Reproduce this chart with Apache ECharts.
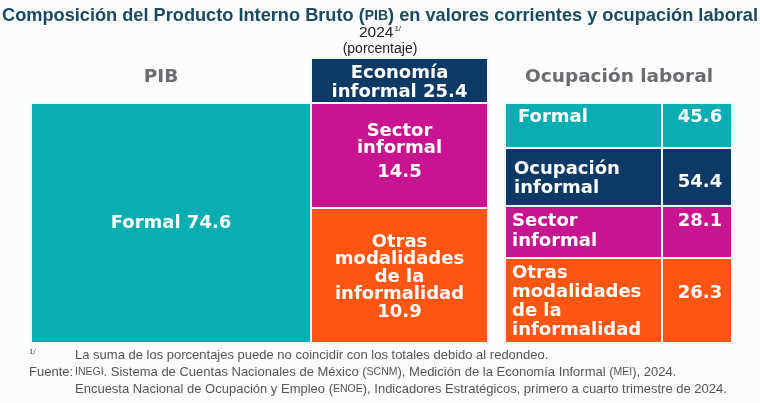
<!DOCTYPE html>
<html>
<head>
<meta charset="utf-8">
<script src="https://cdn.jsdelivr.net/npm/echarts@6/dist/echarts.min.js"></script>
<style>
html,body{margin:0;padding:0;background:#fcfcfc;}
#main{width:760px;height:403px;}
</style>
</head>
<body>
<div id="main"></div>
<script>
// PIB a valores corrientes, 2024 (porcentaje)
var pibNames = ['Formal', 'Economía informal', 'Sector informal', 'Otras modalidades de la informalidad'];
var pibValues = [74.6, 25.4, 14.5, 10.9];
// Ocupación laboral, 2024 (porcentaje)
var ocupNames = ['Formal', 'Ocupación informal', 'Sector informal', 'Otras modalidades de la informalidad'];
var ocupValues = [45.6, 54.4, 28.1, 26.3];

var TEAL = '#0aaeb0', NAVY = '#0d3a64', MAGENTA = '#c8158f', ORANGE = '#fd5612';
var SANS = "'Liberation Sans', Arial, sans-serif";
var BOLD = "bold 18px 'DejaVu Sans', sans-serif";

// parte el nombre en renglones: counts = palabras por renglon
function wrap(str, counts) {
    var w = str.split(' '), out = [], i = 0;
    counts.forEach(function (n) { out.push(w.slice(i, i + n).join(' ')); i += n; });
    if (i < w.length) out.push(w.slice(i).join(' '));
    return out.join('\n');
}
function f1(v) { return v.toFixed(1); }

// celdas del cuadro (unidades del eje: x 0-701, y 0-285 hacia abajo)
var cells = [
    {x0: 0, x1: 280, y0: 45, y1: 285, color: TEAL,
     text: pibNames[0] + ' ' + f1(pibValues[0]), tx: 140, ty: 165.5, lh: 18},
    {x0: 280, x1: 457, y0: 0, y1: 45, color: NAVY,
     text: wrap(pibNames[1] + ' ' + f1(pibValues[1]), [1]), tx: 368.5, ty: 24.5, lh: 19},
    {x0: 280, x1: 457, y0: 45, y1: 150, color: MAGENTA,
     rich: true, name: pibNames[2], value: pibValues[2], tx: 368.5, ty: 65},
    {x0: 280, x1: 457, y0: 150, y1: 285, color: ORANGE,
     text: wrap(pibNames[3] + ' ' + f1(pibValues[3]), [1, 1, 2, 1]), tx: 368.5, ty: 219, lh: 17.5},
    // ocupacion laboral: renglones con columna de etiqueta y de valor
    {x0: 474, x1: 631, y0: 45, y1: 90, color: TEAL, align: 'left',
     text: ocupNames[0], tx: 487, ty: 59.5, lh: 19},
    {x0: 631, x1: 701, y0: 45, y1: 90, color: TEAL,
     text: f1(ocupValues[0]), tx: 669, ty: 59.5, lh: 19},
    {x0: 474, x1: 631, y0: 90, y1: 148, color: NAVY, align: 'left',
     text: wrap(ocupNames[1], [1]), tx: 483, ty: 121, lh: 19},
    {x0: 631, x1: 701, y0: 90, y1: 148, color: NAVY,
     text: f1(ocupValues[1]), tx: 669, ty: 124.5, lh: 19},
    {x0: 474, x1: 631, y0: 148, y1: 200, color: MAGENTA, align: 'left',
     text: wrap(ocupNames[2], [1]), tx: 481, ty: 173.5, lh: 20},
    {x0: 631, x1: 701, y0: 148, y1: 200, color: MAGENTA,
     text: f1(ocupValues[2]), tx: 669, ty: 163.5, lh: 19},
    {x0: 474, x1: 631, y0: 200, y1: 285, color: ORANGE, align: 'left',
     text: wrap(ocupNames[3], [1, 1, 2]), tx: 481, ty: 244, lh: 19},
    {x0: 631, x1: 701, y0: 200, y1: 285, color: ORANGE,
     text: f1(ocupValues[3]), tx: 669, ty: 235, lh: 19}
];

function renderItem(params, api) {
    var c = cells[api.value(0)];
    var p0 = api.coord([c.x0, c.y0]);
    var p1 = api.coord([c.x1, c.y1]);
    var t = api.coord([c.tx, c.ty]);
    var label;
    if (c.rich) {
        var parts = wrap(c.name, [1]).split('\n');
        label = {
            type: 'text', x: t[0], y: t[1],
            style: {
                text: '{n|' + parts[0] + '}\n{n|' + parts[1] + '}\n{v|' + f1(c.value) + '}',
                align: 'center', verticalAlign: 'top', fill: '#fff', font: BOLD,
                rich: {
                    n: {font: BOLD, fill: '#fff', lineHeight: 17},
                    v: {font: BOLD, fill: '#fff', lineHeight: 31}
                }
            }
        };
    } else {
        label = {
            type: 'text', x: t[0], y: t[1],
            style: {
                text: c.text, align: c.align || 'center', verticalAlign: 'middle',
                fill: '#fff', font: BOLD, lineHeight: c.lh
            }
        };
    }
    return {
        type: 'group',
        children: [{
            type: 'rect',
            shape: {x: p0[0], y: p0[1], width: p1[0] - p0[0], height: p1[1] - p0[1]},
            style: {fill: c.color, stroke: '#eef8f8', lineWidth: 2}
        }, label]
    };
}

var myChart = echarts.init(document.getElementById('main'));

var option = {
    backgroundColor: '#fcfcfc',
    animation: false,
    title: {
        left: 'center',
        top: 2,
        text: '{a|Composición del Producto Interno Bruto (}{b|PIB}{a|) en valores corrientes y ocupación laboral}',
        textStyle: {
            rich: {
                a: {fontFamily: SANS, fontWeight: 'bold', fontSize: 18.2, color: '#1b4a5e'},
                b: {fontFamily: SANS, fontWeight: 'bold', fontSize: 14, color: '#1b4a5e'}
            }
        }
    },
    grid: {left: 31, top: 58, width: 701, height: 285},
    xAxis: {type: 'value', min: 0, max: 701, show: false},
    yAxis: {type: 'value', min: 0, max: 285, inverse: true, show: false},
    series: [{
        type: 'custom',
        renderItem: renderItem,
        data: cells.map(function (c, i) { return [i]; }),
        silent: true
    }],
    graphic: [
        {type: 'text', left: 'center', top: 25, style: {
            text: '{a|2024}{s|1/}', rich: {
                a: {fontFamily: SANS, fontSize: 15.5, fill: '#222'},
                s: {fontFamily: SANS, fontSize: 8, fill: '#222', verticalAlign: 'top', padding: [0, 0, 8, 1]}
            }}},
        {type: 'text', left: 'center', top: 42, style: {
            text: '(porcentaje)', font: "14px 'Liberation Sans', sans-serif", fill: '#222'}},
        {type: 'text', x: 161, y: 77, style: {
            text: 'PIB', font: "bold 18.5px 'DejaVu Sans', sans-serif", fill: '#6a6c70',
            align: 'center', verticalAlign: 'middle'}},
        {type: 'text', x: 619, y: 77, style: {
            text: 'Ocupación laboral', font: "bold 18.5px 'DejaVu Sans', sans-serif", fill: '#6a6c70',
            align: 'center', verticalAlign: 'middle'}},
        {type: 'text', x: 29, y: 348, style: {
            text: '1/', font: "8px 'Liberation Sans', sans-serif", fill: '#555'}},
        {type: 'text', x: 75, y: 355, style: {
            text: 'La suma de los porcentajes puede no coincidir con los totales debido al redondeo.',
            font: "13px 'Liberation Sans', sans-serif", fill: '#555', verticalAlign: 'middle'}},
        {type: 'text', x: 29, y: 372, style: {
            text: 'Fuente:', font: "13px 'Liberation Sans', sans-serif", fill: '#555', verticalAlign: 'middle'}},
        {type: 'text', x: 75, y: 372, style: {
            text: '{s|INEGI}{a|. Sistema de Cuentas Nacionales de México (}{s|SCNM}{a|), Medición de la Economía Informal (}{s|MEI}{a|), 2024.}',
            verticalAlign: 'middle',
            rich: {
                a: {fontFamily: SANS, fontSize: 13, fill: '#555'},
                s: {fontFamily: SANS, fontSize: 10.5, fill: '#555'}
            }}},
        {type: 'text', x: 75, y: 389, style: {
            text: '{a|Encuesta Nacional de Ocupación y Empleo (}{s|ENOE}{a|), Indicadores Estratégicos, primero a cuarto trimestre de 2024.}',
            verticalAlign: 'middle',
            rich: {
                a: {fontFamily: SANS, fontSize: 13, fill: '#555'},
                s: {fontFamily: SANS, fontSize: 10.5, fill: '#555'}
            }}}
    ]
};

myChart.setOption(option);
window.addEventListener('resize', function () {
    myChart.resize();
});
</script>
</body>
</html>
